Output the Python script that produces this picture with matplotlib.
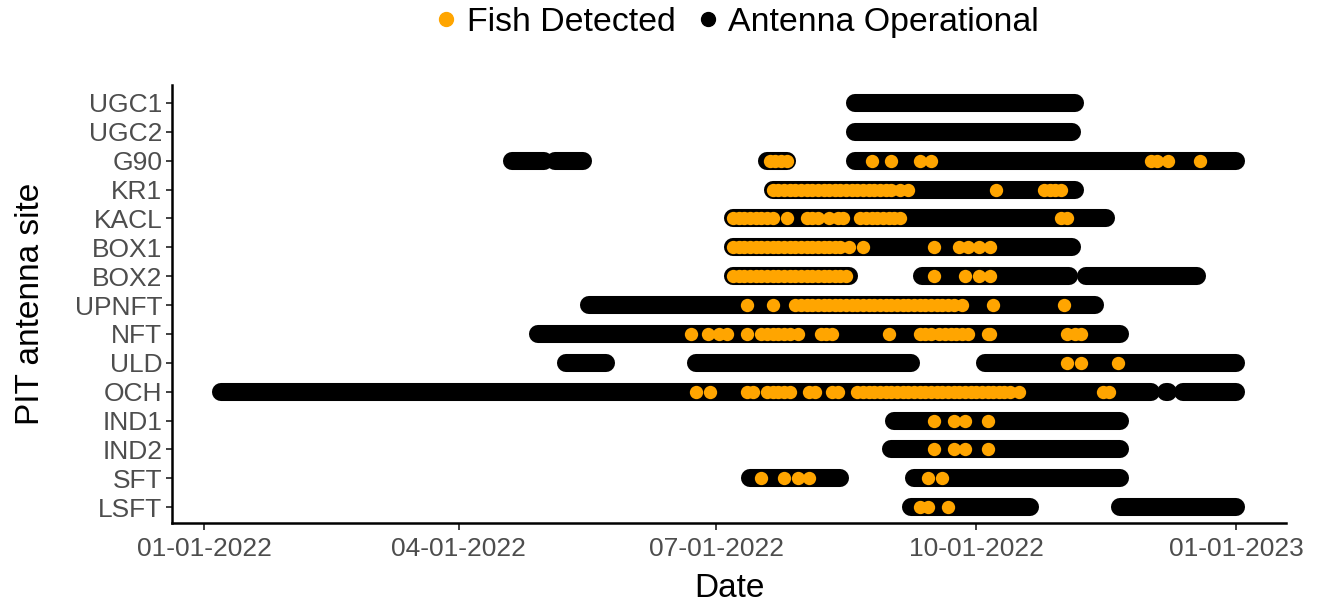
import matplotlib
matplotlib.use("Agg")
import matplotlib.pyplot as plt
import matplotlib.dates as mdates
import pandas as pd
from matplotlib.lines import Line2D

plt.rcParams['font.family'] = ['Liberation Sans', 'DejaVu Sans']

sites = ["UGC1", "UGC2", "G90", "KR1", "KACL", "BOX1", "BOX2", "UPNFT",
         "NFT", "ULD", "OCH", "IND1", "IND2", "SFT", "LSFT"]

# antenna operating periods (first day, last day)
op_ugc1 = [("2022-08-19", "2022-11-05")]
op_ugc2 = [("2022-08-19", "2022-11-04")]
op_g90 = [("2022-04-20", "2022-05-01"), ("2022-05-05", "2022-05-15"),
          ("2022-07-19", "2022-07-26"), ("2022-08-19", "2023-01-01")]
op_kr1 = [("2022-07-21", "2022-11-05")]
op_kacl = [("2022-07-07", "2022-11-16")]
op_box1 = [("2022-07-07", "2022-11-04")]
op_box2 = [("2022-07-07", "2022-08-17"), ("2022-09-12", "2022-11-03"),
           ("2022-11-09", "2022-12-18")]
op_upnft = [("2022-05-17", "2022-11-12")]
op_nft = [("2022-04-29", "2022-11-21")]
op_uld = [("2022-05-09", "2022-05-23"), ("2022-06-24", "2022-09-08"),
          ("2022-10-04", "2023-01-01")]
op_och = [("2022-01-07", "2022-12-02"), ("2022-12-07", "2022-12-08"),
          ("2022-12-13", "2023-01-01")]
op_ind1 = [("2022-09-02", "2022-11-21")]
op_ind2 = [("2022-09-01", "2022-11-21")]
op_sft = [("2022-07-13", "2022-08-14"), ("2022-09-09", "2022-11-21")]
op_lsft = [("2022-09-08", "2022-10-20"), ("2022-11-21", "2023-01-01")]

# fish detection days (MM-DD, all 2022)
fish_ugc1 = []
fish_ugc2 = []
fish_g90 = ["07-20", "07-22", "07-24", "07-26", "08-25", "09-01", "09-11", "09-15",
            "12-02", "12-04", "12-08", "12-19"]
fish_kr1 = ["07-21", "07-23", "07-25", "07-27", "07-29", "07-31", "08-02", "08-04",
            "08-06", "08-08", "08-10", "08-12", "08-14", "08-16", "08-18", "08-20",
            "08-22", "08-24", "08-26", "08-28", "08-30", "09-01", "09-04", "09-07",
            "10-08", "10-25", "10-27", "10-29", "10-31"]
fish_kacl = ["07-07", "07-09", "07-11", "07-13", "07-15", "07-17", "07-19", "07-21",
             "07-26", "08-02", "08-04", "08-06", "08-10", "08-13", "08-15",
             "08-21", "08-23", "08-25", "08-27", "08-29", "08-31", "09-02", "09-04",
             "10-31", "11-02"]
fish_box1 = ["07-07", "07-09", "07-11", "07-13", "07-15", "07-17", "07-19", "07-21",
             "07-23", "07-25", "07-27", "07-29", "07-31", "08-02", "08-04", "08-06",
             "08-08", "08-10", "08-12", "08-14", "08-17", "08-22",
             "09-16", "09-25", "09-28", "10-02", "10-06"]
fish_box2 = ["07-07", "07-09", "07-11", "07-13", "07-15", "07-17", "07-19", "07-21",
             "07-23", "07-25", "07-27", "07-29", "07-31", "08-02", "08-04", "08-06",
             "08-08", "08-10", "08-12", "08-14", "08-16",
             "09-16", "09-27", "10-02", "10-06"]
fish_upnft = ["07-12", "07-21", "07-29", "07-31", "08-02", "08-04", "08-06", "08-08",
              "08-10", "08-12", "08-14", "08-16", "08-18", "08-20", "08-22", "08-24",
              "08-26", "08-28", "08-30", "09-01", "09-03", "09-05", "09-07", "09-09",
              "09-11", "09-13", "09-15", "09-17", "09-19", "09-21", "09-23", "09-26",
              "10-07", "11-01"]
fish_nft = ["06-22", "06-28", "07-02", "07-05", "07-12", "07-17", "07-19", "07-21",
            "07-23", "07-25", "07-27", "07-30", "08-07", "08-09", "08-11", "08-31",
            "09-11", "09-13", "09-15", "09-18", "09-20", "09-22", "09-24", "09-26",
            "09-28", "10-05", "10-06", "11-02", "11-05", "11-07"]
fish_uld = ["11-02", "11-07", "11-20"]
fish_och = ["06-24", "06-29", "07-12", "07-14", "07-19", "07-21", "07-23", "07-25",
            "07-27", "08-03", "08-05", "08-11", "08-13", "08-20", "08-22", "08-24",
            "08-26", "08-28", "08-30", "09-01", "09-03", "09-05", "09-07", "09-09",
            "09-11", "09-13", "09-15", "09-17", "09-19", "09-21", "09-23", "09-25",
            "09-27", "09-29", "10-01", "10-03", "10-05", "10-07", "10-09", "10-11",
            "10-13", "10-16", "11-15", "11-17"]
fish_ind1 = ["09-16", "09-23", "09-27", "10-05"]
fish_ind2 = ["09-16", "09-23", "09-27", "10-05"]
fish_sft = ["07-17", "07-25", "07-30", "08-03", "09-14", "09-19"]
fish_lsft = ["09-11", "09-14", "09-21"]

op_periods = [op_ugc1, op_ugc2, op_g90, op_kr1, op_kacl, op_box1, op_box2, op_upnft,
              op_nft, op_uld, op_och, op_ind1, op_ind2, op_sft, op_lsft]
fish_days = [fish_ugc1, fish_ugc2, fish_g90, fish_kr1, fish_kacl, fish_box1, fish_box2,
             fish_upnft, fish_nft, fish_uld, fish_och, fish_ind1, fish_ind2, fish_sft,
             fish_lsft]

tick_dates = ["2022-01-01", "2022-04-01", "2022-07-01", "2022-10-01", "2023-01-01"]

fig = plt.figure(figsize=(13.22, 6.02), dpi=100)
ax = fig.add_axes([0.1301, 0.1312, 0.8427, 0.7276])

n = len(sites)
for i, site in enumerate(sites):
    y = n - i
    for start, end in op_periods[i]:
        ax.plot(pd.to_datetime([start, end]), [y, y], color='black', lw=13,
                solid_capstyle='round', zorder=2)
    if fish_days[i]:
        d = pd.to_datetime(["2022-" + s for s in fish_days[i]])
        ax.scatter(d, [y] * len(d), s=92, color='#FFA500', linewidths=0, zorder=3)

ax.set_yticks(range(n, 0, -1))
ax.set_yticklabels(sites)
ax.set_ylim(0.45, 15.62)
ax.set_xlim(pd.Timestamp("2021-12-20 14:00"), pd.Timestamp("2023-01-18 14:00"))
ax.set_xticks(pd.to_datetime(tick_dates))
ax.xaxis.set_major_formatter(mdates.DateFormatter("%m-%d-%Y"))

for side in ['top', 'right']:
    ax.spines[side].set_visible(False)
for side in ['left', 'bottom']:
    ax.spines[side].set_linewidth(1.8)
    ax.spines[side].set_color('black')

ax.tick_params(axis='x', length=5, width=1.3, color='#333333', labelsize=19,
               labelcolor='#4D4D4D', pad=5)
ax.tick_params(axis='y', length=4, width=1.3, color='#333333', labelsize=19,
               labelcolor='#4D4D4D', pad=3)

ax.set_xlabel("Date", fontsize=24)
ax.set_ylabel("PIT antenna site", fontsize=24)
ax.xaxis.set_label_coords(0.5, -0.114)
ax.yaxis.set_label_coords(-0.113, 0.5)

handles = [Line2D([], [], marker='o', ls='none', color='#FFA500', markersize=10),
           Line2D([], [], marker='o', ls='none', color='black', markersize=10)]
fig.legend(handles, ["Fish Detected", "Antenna Operational"], loc='center',
           bbox_to_anchor=(0.558, 0.963), ncol=2, frameon=False, fontsize=24.4,
           handlelength=0.6, handletextpad=0.3, columnspacing=0.66)

fig.savefig("out.png", dpi=100)
